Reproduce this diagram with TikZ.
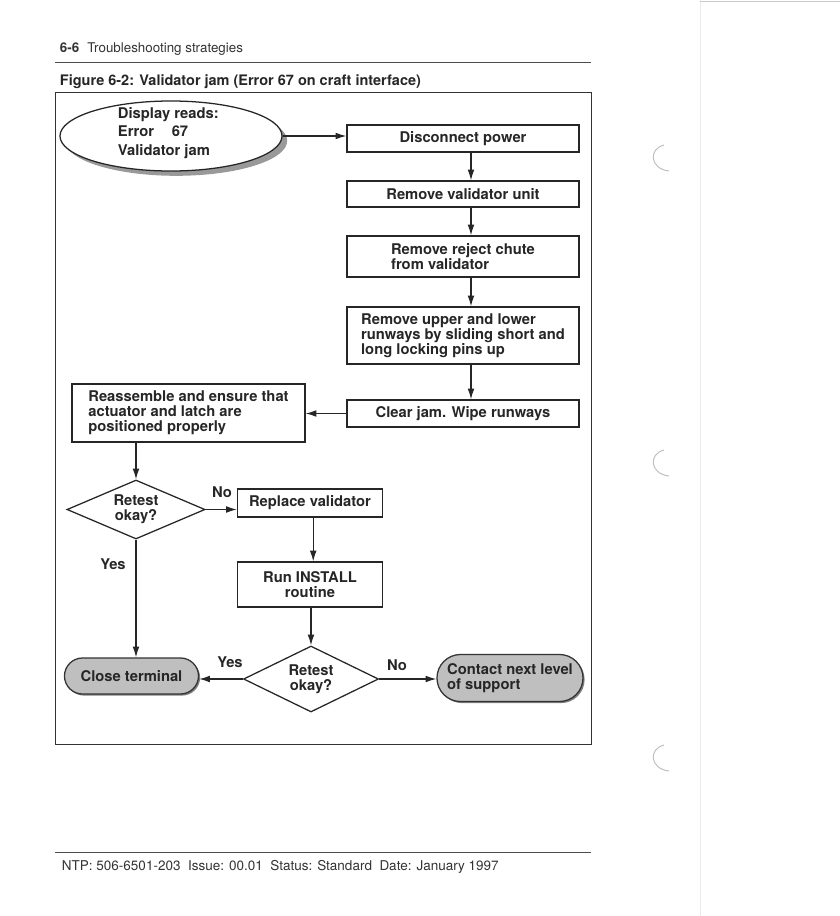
\documentclass[tikz,border=0pt]{standalone}
\usepackage{fontspec}
\setmainfont{TeX Gyre Heros}
\usetikzlibrary{arrows.meta,shapes.geometric,shapes.misc,shadows}

\begin{document}
\begin{tikzpicture}[
  x=0.025cm, y=-0.025cm, >={Latex[length=0.27cm,width=0.17cm]},
  every node/.style={font=\fontsize{10.5}{10.7}\selectfont\bfseries, text=black!85},
  box/.style={draw=black!85, line width=0.9pt, minimum width=5.8cm, inner sep=0pt},
  choice/.style={diamond, draw=black!85, line width=0.9pt, align=center, inner sep=0pt, aspect=2.1},
  term/.style={rounded rectangle, draw=black!80, line width=0.9pt, fill=black!25, align=left,
    inner sep=0pt, drop shadow={shadow xshift=0.04cm, shadow yshift=-0.04cm, fill=black!50, opacity=1}},
  lbl/.style={font=\fontsize{10.5}{12}\selectfont\bfseries},
  link/.style={->, draw=black!85, line width=0.8pt}
]
  \useasboundingbox (0,0) rectangle (840,916);
  % page edge and punch holes
  \draw[black!8, line width=0.6pt] (700,0) -- (700,916);
  \draw[black!20, line width=0.6pt] (700,1) -- (840,1);
  \foreach \hy in {145,450,745}
    \draw[black!25, line width=0.7pt] (664,\hy) .. controls (648,\hy+4) and (650,\hy+24) .. (669,\hy+26);

  % header and title
  \node (hdr) [anchor=base west, font=\fontsize{9.5}{11}\selectfont, text=black!80] at (55,52)
    {\textbf{6-6}\hspace{0.6em}Troubleshooting strategies};
  \draw[black!70, line width=0.6pt] (55,62) -- (591,62);
  \node (ttl) [anchor=base west, font=\fontsize{10.3}{12}\selectfont\bfseries] at (55,85)
    {Figure 6-2: Validator jam (Error 67 on craft interface)};
  \draw[black!80, line width=0.7pt] (55,92) rectangle (591,744);

  % start
  \node (disp) [ellipse, draw=black!85, line width=0.9pt, fill=white, minimum width=5.55cm, minimum height=1.75cm,
    drop shadow={shadow xshift=0.13cm, shadow yshift=-0.12cm, fill=black!40, opacity=1}] at (171,136) {};
  \node (dtext) [anchor=west, align=left, font=\fontsize{10.5}{13.2}\selectfont\bfseries] at (113,133)
    {Display reads:\\Error\hspace{1.2em}67\\Validator jam};

  % right column
  \node (disc) [box, align=center, minimum height=0.675cm] at (463,138.5) {Disconnect power};
  \node (unit) [box, align=center, minimum height=0.65cm] at (463,194) {Remove validator unit};
  \node (chute) [box, align=left, minimum height=1.025cm] at (463,256.5) {Remove reject chute\\from validator};
  \node (runw) [box, align=left, minimum height=1.425cm] at (463,335.5)
    {Remove upper and lower\\runways by sliding short and\\long locking pins up};
  \node (clear) [box, align=center, minimum height=0.675cm] at (463,413.5) {Clear jam. Wipe runways};

  % left column
  \node (reas) [box, align=left, minimum width=5.825cm, minimum height=1.45cm] at (188.5,413)
    {Reassemble and ensure that\\actuator and latch are\\positioned properly};
  \node (test1) [choice, minimum width=3.45cm, minimum height=1.475cm] at (136,509.5) {Retest\\okay?};
  \node (repl) [box, align=center, minimum width=3.625cm, minimum height=0.7cm] at (310,503) {Replace validator};
  \node (inst) [box, align=center, minimum width=3.625cm, minimum height=1.125cm] at (310,584.5) {Run INSTALL\\routine};
  \node (test2) [choice, minimum width=3.375cm, minimum height=1.65cm] at (311,679) {Retest\\okay?};
  \node (close) [term, minimum width=3.35cm, minimum height=0.9cm] at (131.5,676) {Close terminal};
  \node (cont) [term, minimum width=3.65cm, minimum height=1.175cm] at (510,678) {Contact next level\\of support};

  % branch labels
  \node (no1) [lbl] at (222,492) {No};
  \node (yes1) [lbl] at (113,564) {Yes};
  \node (yes2) [lbl] at (230,662) {Yes};
  \node (no2) [lbl] at (397,665) {No};

  % connectors
  \draw[link] (disp.east) -- (disp.east -| disc.west);
  \foreach \a/\b in {disc/unit, unit/chute, chute/runw, runw/clear}
    \draw[link] ([xshift=0.2cm]\a.south) -- ([xshift=0.2cm]\b.north);
  \draw[link] (clear.west) -- (clear.west -| reas.east);
  \draw[link] (reas.south -| test1.north) -- (test1.north);
  \draw[link] (test1.east) -- (test1.east -| repl.west);
  \draw[link] ([xshift=0.08cm]repl.south) -- ([xshift=0.08cm]inst.north);
  \draw[link] (inst.south -| test2.north) -- (test2.north);
  \draw[link] (test1.south) -- (test1.south |- close.north);
  \draw[link] (test2.west) -- (test2.west -| close.east);
  \draw[link] (test2.east) -- (test2.east -| cont.west);

  % footer
  \draw[black!70, line width=0.6pt] (55,852) -- (591,852);
  \node (ftr) [anchor=base west, font=\fontsize{9.6}{11}\selectfont, text=black!80] at (57,870)
    {NTP: 506-6501-203~ Issue: 00.01~ Status: Standard~ Date: January 1997};
\end{tikzpicture}
\end{document}
